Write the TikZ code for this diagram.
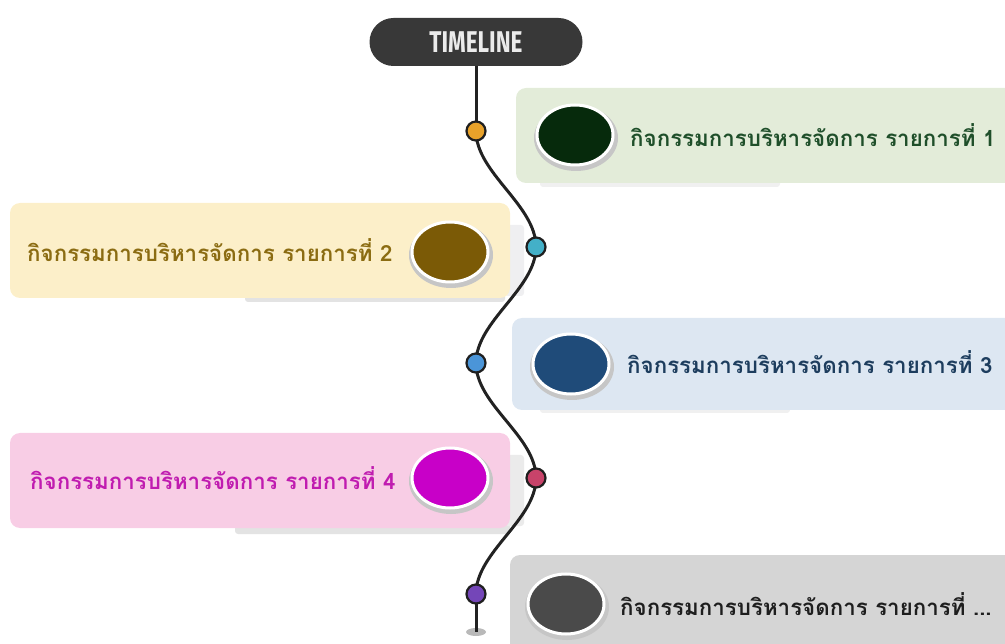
\documentclass[tikz,border=0pt]{standalone}
\usepackage{fontspec}
\usetikzlibrary{shapes.geometric}
\newfontfamily\thaifont[Script=Thai]{Loma}
\newfontfamily\titlefont{Fira Sans}
\pgfdeclarelayer{bg}
\pgfsetlayers{bg,main}
\definecolor{boxA}{HTML}{E3ECD9}\definecolor{ellA}{HTML}{062A0C}\definecolor{txtA}{HTML}{1F4F2A}
\definecolor{boxB}{HTML}{FCEFC9}\definecolor{ellB}{HTML}{7B5A06}\definecolor{txtB}{HTML}{8B6C12}
\definecolor{boxC}{HTML}{DDE7F2}\definecolor{ellC}{HTML}{1F4B79}\definecolor{txtC}{HTML}{1D3D5E}
\definecolor{boxD}{HTML}{F8CDE5}\definecolor{ellD}{HTML}{C800C8}\definecolor{txtD}{HTML}{C01CB0}
\definecolor{boxE}{HTML}{D5D5D5}\definecolor{ellE}{HTML}{4A4A4A}\definecolor{txtE}{HTML}{1E1E1E}
\definecolor{dotA}{HTML}{E8A22A}\definecolor{dotB}{HTML}{43B0C8}\definecolor{dotC}{HTML}{4B95D8}
\definecolor{dotD}{HTML}{C8436A}\definecolor{dotE}{HTML}{7446B8}
\definecolor{pill}{HTML}{383838}\definecolor{wire}{HTML}{222222}
\tikzset{
  card/.style={rounded corners=10pt, draw=none},
  dotnode/.style={circle, draw=wire!90!black, line width=2.2pt, minimum size=19pt, inner sep=0pt},
  wireline/.style={draw=wire, line width=3pt},
  label/.style={font=\thaifont\bfseries\fontsize{22.3}{24}\selectfont, anchor=west, inner sep=0pt},
  badge/.style={ellipse, minimum width=76pt, minimum height=60pt, inner sep=0pt, draw=white, line width=3pt},
  badgeshadow/.style={ellipse, minimum width=84pt, minimum height=66pt, inner sep=0pt, fill=gray!45, draw=none},
  cardshadow/.style={fill=gray!22, draw=none, rounded corners=3pt}
}
\begin{document}
\begin{tikzpicture}[x=1pt,y=-1pt]
\useasboundingbox (0,0) rectangle (1005,644);
% title pill
\node[fill=pill, rounded corners=24pt, minimum width=213pt, minimum height=48pt, inner sep=0pt] (title) at (476,42)
  {\titlefont\bfseries\fontsize{30}{31}\selectfont\color{white!92!black}\scalebox{0.75}[1]{TIMELINE}};
% dots
\node[dotnode, fill=dotA] (d1) at (476,131) {};
\node[dotnode, fill=dotB] (d2) at (536,247) {};
\node[dotnode, fill=dotC] (d3) at (476,363) {};
\node[dotnode, fill=dotD] (d4) at (536,478) {};
\node[dotnode, fill=dotE] (d5) at (476,594) {};
\coordinate (tail) at (476,632);
\begin{pgfonlayer}{bg}
  % shadows under cards
  \fill[cardshadow] (245,293) rectangle (505,302);
  \fill[cardshadow, fill=blue!6!gray!12] (505,225) rectangle (524,296);
  \fill[cardshadow] (235,523) rectangle (510,534);
  \fill[cardshadow, fill=gray!16] (505,455) rectangle (524,526);
  \fill[cardshadow, fill=gray!12] (540,180) rectangle (780,187);
  \fill[cardshadow, fill=gray!12] (540,406) rectangle (790,413);
  % cards
  \fill[card, fill=boxA] (516,88) rectangle (1015,183);
  \fill[card, fill=boxB] (10,203) rectangle (510,298);
  \fill[card, fill=boxC] (512,318) rectangle (1015,410);
  \fill[card, fill=boxD] (10,433) rectangle (510,528);
  \fill[card, fill=boxE] (510,555) rectangle (1015,660);
  % tail shadow
  \fill[gray!55] (tail) ellipse [x radius=10pt, y radius=4pt];
  % timeline wire
  \draw[wireline] (title) -- (d1.center);
  \draw[wireline] (d1.center) .. controls +(0,42) and +(0,-42) .. (d2.center)
                              .. controls +(0,42) and +(0,-42) .. (d3.center)
                              .. controls +(0,42) and +(0,-42) .. (d4.center)
                              .. controls +(0,42) and +(0,-42) .. (d5.center);
  \draw[wireline] (d5.center) -- (tail);
\end{pgfonlayer}
% badges
\node[badgeshadow] at (576,138) {};
\node[badge, fill=ellA] (b1) at (575,135) {};
\node[badgeshadow] at (451,255) {};
\node[badge, fill=ellB] (b2) at (450,252) {};
\node[badgeshadow] at (572,367) {};
\node[badge, fill=ellC] (b3) at (571,364) {};
\node[badgeshadow] at (451,481) {};
\node[badge, fill=ellD] (b4) at (450,478) {};
\node[badgeshadow] at (567,607) {};
\node[badge, fill=ellE] (b5) at (566,604) {};
% labels
\node[label, text=txtA] (t1) at (630,135) {กิจกรรมการบริหารจัดการ รายการที่ 1};
\node[label, text=txtB] (t2) at (27,250) {กิจกรรมการบริหารจัดการ รายการที่ 2};
\node[label, text=txtC] (t3) at (627,362) {กิจกรรมการบริหารจัดการ รายการที่ 3};
\node[label, text=txtD] (t4) at (30,478) {กิจกรรมการบริหารจัดการ รายการที่ 4};
\node[label, text=txtE] (t5) at (620,604) {กิจกรรมการบริหารจัดการ รายการที่ ...};
\end{tikzpicture}
\end{document}
